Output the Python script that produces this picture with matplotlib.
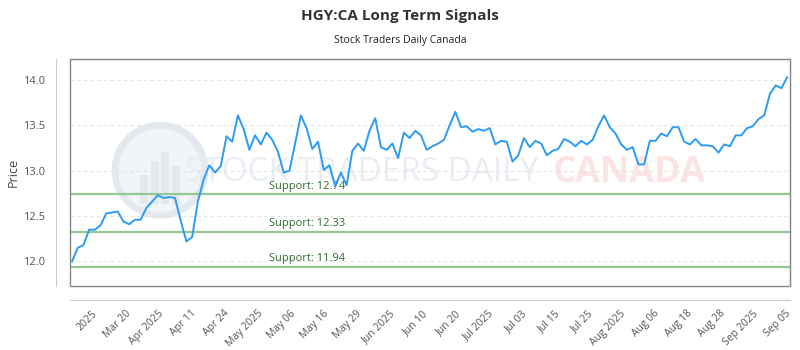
import numpy as np
import matplotlib
matplotlib.use("Agg")
import matplotlib.pyplot as plt
from matplotlib.patches import Rectangle, Ellipse

plt.rcParams['font.family'] = ['Open Sans', 'DejaVu Sans']

# closing prices, one per trading day
prices = [
    12.00, 12.15, 12.18, 12.35, 12.35, 12.40, 12.53, 12.54, 12.55, 12.44,
    12.41, 12.46, 12.46, 12.59, 12.66, 12.73, 12.70, 12.71, 12.70, 12.45,
    12.22, 12.27, 12.66, 12.90, 13.06, 12.98, 13.05, 13.38, 13.32, 13.61,
    13.46, 13.23, 13.39, 13.29, 13.42, 13.34, 13.21, 12.98, 13.00, 13.30,
    13.61, 13.47, 13.24, 13.32, 13.01, 13.06, 12.83, 12.98, 12.84, 13.22,
    13.30, 13.22, 13.44, 13.58, 13.26, 13.23, 13.30, 13.14, 13.42, 13.36,
    13.44, 13.39, 13.23, 13.27, 13.30, 13.34, 13.50, 13.65, 13.48, 13.49,
    13.43, 13.46, 13.44, 13.47, 13.29, 13.33, 13.32, 13.10, 13.17, 13.36,
    13.26, 13.33, 13.30, 13.17, 13.22, 13.24, 13.35, 13.32, 13.27, 13.33,
    13.29, 13.34, 13.49, 13.61, 13.48, 13.41, 13.29, 13.23, 13.26, 13.07,
    13.07, 13.33, 13.33, 13.41, 13.38, 13.48, 13.48, 13.32, 13.29, 13.35,
    13.28, 13.28, 13.27, 13.20, 13.29, 13.27, 13.39, 13.39, 13.47, 13.49,
    13.57, 13.61, 13.85, 13.94, 13.91, 14.03,
]

supports = [12.74, 12.33, 11.94]

tick_labels = [
    '2025', 'Mar 20', 'Apr 2025', 'Apr 11', 'Apr 24', 'May 2025', 'May 06',
    'May 16', 'May 29', 'Jun 2025', 'Jun 10', 'Jun 20', 'Jul 2025', 'Jul 03',
    'Jul 15', 'Jul 25', 'Aug 2025', 'Aug 06', 'Aug 18', 'Aug 28', 'Sep 2025',
    'Sep 05',
]

x = np.arange(len(prices))

fig = plt.figure(figsize=(8, 3.5), dpi=100)
ax = fig.add_axes([0.0875, 0.183, 0.9, 0.648])

# spines first: moving them resets the tick objects
for side in ['left', 'bottom']:
    ax.spines[side].set_position(('outward', 10))
    ax.spines[side].set_color('#cccccc')
for side in ['top', 'right']:
    ax.spines[side].set_color('#888888')
ax.add_patch(Rectangle((0, 0), 1, 1, transform=ax.transAxes, fill=False,
                       edgecolor='#888888', lw=1, clip_on=False, zorder=5))

# watermark
ax.add_patch(Ellipse((0.125, 0.51), 0.125, 0.396, transform=ax.transAxes,
                     facecolor='#f1f4f9', edgecolor='#e4e9f0', lw=5,
                     zorder=0))
for bx, bh in [(0.097, 0.13), (0.112, 0.19), (0.127, 0.23), (0.142, 0.17)]:
    ax.add_patch(Rectangle((bx, 0.36), 0.011, bh, transform=ax.transAxes,
                           facecolor='#e4e9f0', edgecolor='none', zorder=0))
ax.text(0.16, 0.5, 'STOCK TRADERS DAILY', transform=ax.transAxes,
        fontsize=24, color='#e9edf4', va='center', ha='left', zorder=0)
ax.text(0.67, 0.5, 'CANADA', transform=ax.transAxes, fontsize=26,
        fontweight='bold', color='#fde4e4', va='center', ha='left', zorder=0)

for s in supports:
    ax.axhline(s, color='#93c893', lw=1.6, zorder=2)
    ax.text(0.276, s + 0.03, f'Support: {s:.2f}',
            transform=ax.get_yaxis_transform(),
            fontsize=8, color='#2e6b34', va='bottom', ha='left', zorder=3)

ax.plot(x, prices, color='#2b9cf2', lw=1.4, zorder=4)

ax.set_ylim(11.73, 14.23)
ax.set_xlim(-0.35, len(prices) - 0.5)
ax.set_yticks([12.0, 12.5, 13.0, 13.5, 14.0])
ax.yaxis.grid(True, linestyle=(0, (3, 3)), color='#e3e3e3', lw=0.8)
ax.set_axisbelow(True)

ax.set_xticks(np.linspace(3.5, 124.7, len(tick_labels)))
ax.set_xticklabels(tick_labels, rotation=45, ha='right',
                   rotation_mode='anchor', fontsize=7.5, color='#555555')
ax.tick_params(axis='both', length=0)
ax.tick_params(axis='x', pad=6)
ax.tick_params(axis='y', labelsize=8, labelcolor='#555555', pad=8)

ax.set_ylabel('Price', fontsize=9, color='#444444', labelpad=2)

fig.text(0.5, 0.955, 'HGY:CA Long Term Signals', ha='center', va='center',
         fontsize=11, fontweight='bold', color='#333333')
fig.text(0.5, 0.885, 'Stock Traders Daily Canada', ha='center', va='center',
         fontsize=7.5, color='#222222')

fig.savefig('out.png', dpi=100)
